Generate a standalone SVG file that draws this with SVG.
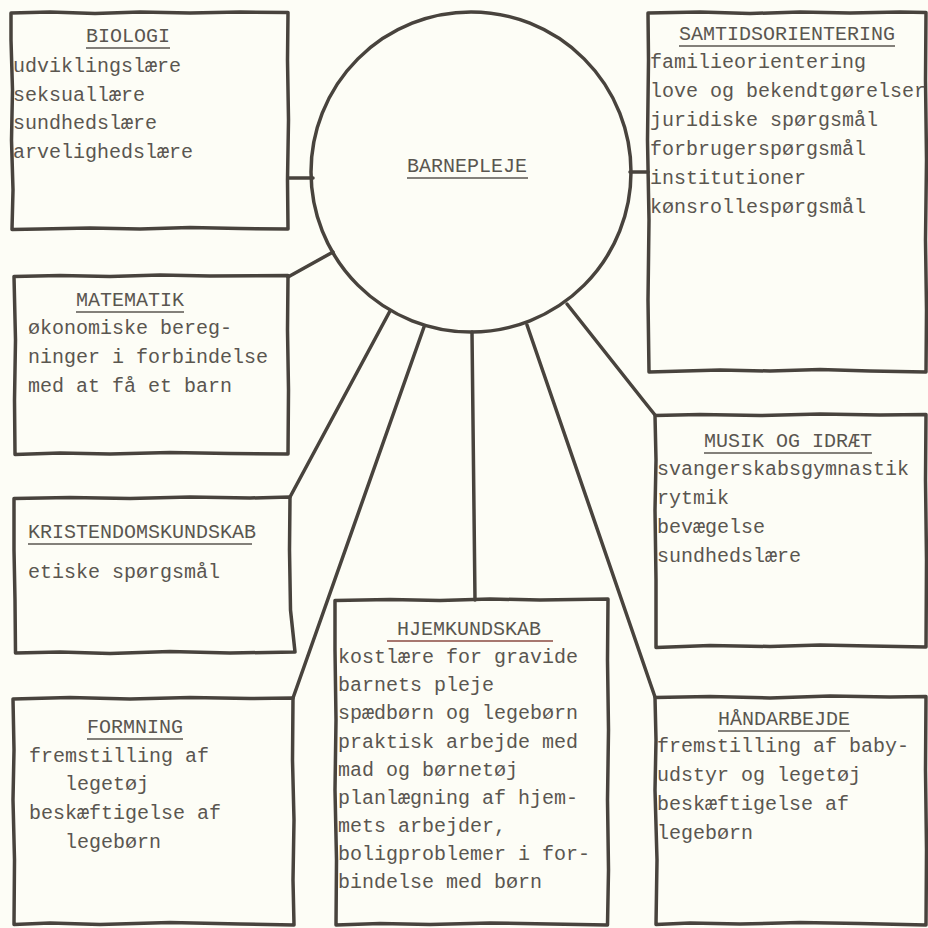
<svg xmlns="http://www.w3.org/2000/svg" width="928" height="928" viewBox="0 0 928 928">
<style>
.box{fill:none;stroke:#48433d;stroke-width:3.5;stroke-linejoin:round}
.con{fill:none;stroke:#48433d;stroke-width:3.5;stroke-linecap:round;stroke-linejoin:round}
.t{font-family:"Liberation Mono","DejaVu Sans Mono",monospace;font-size:20px;fill:#5a5650}
.h{text-anchor:middle}
.u{stroke:#5a5650;stroke-width:1.6}
</style>
<rect width="928" height="928" fill="#fdfdf6"/>
<g id="connectors">
<line class="con" x1="288" y1="178" x2="313" y2="178"/>
<line class="con" x1="630" y1="172" x2="648" y2="172"/>
<line class="con" x1="288" y1="277" x2="333" y2="252"/>
<line class="con" x1="290" y1="497" x2="390" y2="311"/>
<line class="con" x1="293" y1="698" x2="424" y2="327"/>
<line class="con" x1="472" y1="332" x2="475" y2="600"/>
<line class="con" x1="527" y1="325" x2="655" y2="697"/>
<polyline class="con" points="567,304 643,400 655,415"/>
</g>
<g id="barnepleje">
<circle cx="471" cy="172" r="160" class="box"/>
<text class="t h" x="467" y="172">BARNEPLEJE</text>
<line class="u" x1="407" y1="178" x2="528" y2="178"/>
</g>
<g id="biologi">
<path class="box" d="M11,13 L50,12 L95,13.5 L140,12 L190,13 L240,12 L288,12.5 L287.5,60 L288.5,120 L287.5,180 L288,229 L240,228.5 L190,227.5 L140,229 L90,228 L40,229 L12,229.5 L13,190 L11.5,140 L12.5,90 L11,40 Z"/>
<text class="t h" x="128" y="42">BIOLOGI</text>
<line class="u" x1="86" y1="48" x2="170" y2="48"/>
<text class="t" x="13" y="72">udviklingslære</text>
<text class="t" x="13" y="101">seksuallære</text>
<text class="t" x="13" y="129">sundhedslære</text>
<text class="t" x="13" y="158">arvelighedslære</text>
</g>
<g id="samtidsorientering">
<path class="box" d="M648,13 L700,12 L750,13.5 L800,12 L850,13 L900,12 L926,12.5 L925.5,80 L926.5,160 L925.5,240 L926.5,310 L926,372 L870,371 L820,369.5 L770,371 L720,370 L649,372 L648,300 L649,220 L647.5,140 L648.5,60 Z"/>
<text class="t h" x="787" y="40">SAMTIDSORIENTERING</text>
<line class="u" x1="679" y1="46" x2="895" y2="46"/>
<text class="t" x="650" y="68">familieorientering</text>
<text class="t" x="650" y="97">love og bekendtgørelser</text>
<text class="t" x="650" y="126">juridiske spørgsmål</text>
<text class="t" x="650" y="155">forbrugerspørgsmål</text>
<text class="t" x="650" y="184">institutioner</text>
<text class="t" x="650" y="213">kønsrollespørgsmål</text>
</g>
<g id="matematik">
<path class="box" d="M14,276.5 L60,275.5 L110,276.5 L160,275 L210,276 L288,275.5 L287.5,330 L288.5,390 L288,454 L230,453.5 L170,452.5 L110,454 L60,453 L15,454.5 L14.5,400 L15.5,340 Z"/>
<text class="t h" x="130" y="306">MATEMATIK</text>
<line class="u" x1="76" y1="312" x2="184" y2="312"/>
<text class="t" x="28" y="334">økonomiske bereg-</text>
<text class="t" x="28" y="363">ninger i forbindelse</text>
<text class="t" x="28" y="392">med at få et barn</text>
</g>
<g id="kristendomskundskab">
<path class="box" d="M14,498.5 L70,497.5 L130,498.5 L190,497 L250,498 L290,497 L289.5,550 L290.5,610 L295,652 L230,653 L170,651.5 L110,653.5 L60,652 L15.5,653 L15,600 L14,550 Z"/>
<text class="t" x="28" y="538">KRISTENDOMSKUNDSKAB</text>
<line class="u" x1="28" y1="544" x2="252" y2="544"/>
<text class="t" x="28" y="578">etiske spørgsmål</text>
</g>
<g id="formning">
<path class="box" d="M13,699 L70,697.5 L130,699 L190,697.5 L250,698.5 L293,698 L292.5,760 L294,820 L293,880 L294,925 L240,924 L170,922.5 L100,924.5 L50,923 L14,924.5 L14.5,860 L13,800 L14,750 Z"/>
<text class="t h" x="135" y="733">FORMNING</text>
<line class="u" x1="87" y1="739" x2="183" y2="739"/>
<text class="t" x="29" y="762">fremstilling af</text>
<text class="t" x="65" y="790">legetøj</text>
<text class="t" x="29" y="819">beskæftigelse af</text>
<text class="t" x="65" y="848">legebørn</text>
</g>
<g id="hjemkundskab">
<path class="box" d="M335,600.5 L390,599.5 L440,600.5 L490,599 L540,600 L608,599 L607.5,660 L608.5,730 L607.5,800 L608.5,870 L607.5,925 L550,924 L490,923 L430,924.5 L380,923.5 L336,925 L336.5,860 L335,790 L336,720 L335,650 Z"/>
<text class="t h" x="469" y="635">HJEMKUNDSKAB</text>
<line x1="387" y1="641" x2="553" y2="641" stroke="#8a4a42" stroke-width="1.6"/>
<text class="t" x="338" y="663">kostlære for gravide</text>
<text class="t" x="338" y="691">barnets pleje</text>
<text class="t" x="338" y="719">spædbørn og legebørn</text>
<text class="t" x="338" y="748">praktisk arbejde med</text>
<text class="t" x="338" y="776">mad og børnetøj</text>
<text class="t" x="338" y="804">planlægning af hjem-</text>
<text class="t" x="338" y="832">mets arbejder,</text>
<text class="t" x="338" y="860">boligproblemer i for-</text>
<text class="t" x="338" y="888">bindelse med børn</text>
</g>
<g id="musik-og-idraet">
<path class="box" d="M655,415.5 L700,414.5 L760,415.5 L820,414 L880,415 L926,414.5 L925.5,480 L926.5,560 L926,647 L870,646 L820,645 L770,646.5 L710,645.5 L656,647.5 L656,580 L655,510 L656,460 Z"/>
<text class="t h" x="788" y="447">MUSIK OG IDRÆT</text>
<line class="u" x1="704" y1="453" x2="872" y2="453"/>
<text class="t" x="657" y="475">svangerskabsgymnastik</text>
<text class="t" x="657" y="504">rytmik</text>
<text class="t" x="657" y="533">bevægelse</text>
<text class="t" x="657" y="562">sundhedslære</text>
</g>
<g id="haandarbejde">
<path class="box" d="M655,697.5 L710,696.5 L770,698 L830,696 L890,697 L926,696.5 L925.5,770 L926.5,850 L926,925 L860,923.5 L800,922.5 L740,924 L690,923 L656,924.5 L657,860 L655,790 L656,740 Z"/>
<text class="t h" x="784" y="725">HÅNDARBEJDE</text>
<line class="u" x1="718" y1="731" x2="850" y2="731"/>
<text class="t" x="657" y="752">fremstilling af baby-</text>
<text class="t" x="657" y="781">udstyr og legetøj</text>
<text class="t" x="657" y="810">beskæftigelse af</text>
<text class="t" x="657" y="839">legebørn</text>
</g>
</svg>
